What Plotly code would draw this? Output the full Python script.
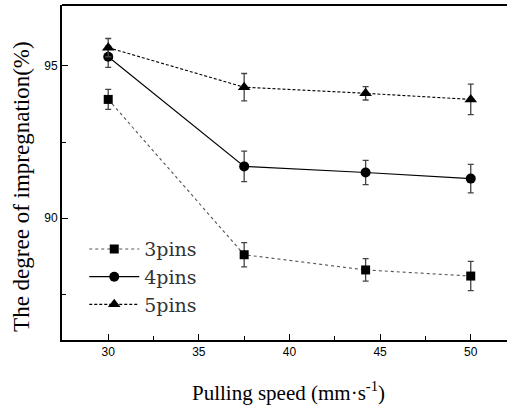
import plotly.graph_objects as go

speed = [30, 37.5, 44.2, 50]
pins3 = [93.9, 88.8, 88.3, 88.1]
pins3_err = [0.33, 0.4, 0.37, 0.48]
pins4 = [95.3, 91.7, 91.5, 91.3]
pins4_err = [0.35, 0.5, 0.4, 0.47]
pins5 = [95.6, 94.3, 94.1, 93.9]
pins5_err = [0.3, 0.45, 0.22, 0.5]
x_ticks = [30, 35, 40, 45, 50]
y_ticks = [90, 95]

series = [
    ("3pins", pins3, pins3_err, "square", "dot", "#555555", 9),
    ("4pins", pins4, pins4_err, "circle", "solid", "black", 10),
    ("5pins", pins5, pins5_err, "triangle-up", "3px,2px", "black", 11),
]

fig = go.Figure()
for name, vals, err, sym, dash, lc, ms in series:
    fig.add_trace(go.Scatter(
        x=speed, y=vals, name=name, mode="lines+markers",
        line=dict(color=lc, width=1.1, dash=dash),
        marker=dict(symbol=sym, size=ms, color="black"),
        error_y=dict(type="data", array=err, visible=True,
                     color="#444444", thickness=1.3, width=3),
    ))

axis_font = dict(family="Liberation Sans, Arial, sans-serif", size=12, color="black")
fig.update_xaxes(
    range=[27.45, 52.0], tickvals=x_ticks, ticks="inside", ticklen=6, tickwidth=1.2,
    tickcolor="black", showline=True, linecolor="black", linewidth=2, mirror=False,
    showgrid=False, zeroline=False, tickfont=axis_font,
    minor=dict(tickvals=[32.5, 37.5, 42.5, 47.5], ticks="inside", ticklen=4,
               tickcolor="black", tickwidth=1),
)
fig.update_yaxes(
    range=[86, 97], tickvals=y_ticks, ticks="inside", ticklen=6, tickwidth=1.2,
    tickcolor="black", showline=True, linecolor="black", linewidth=2, mirror=False,
    showgrid=False, zeroline=False, tickfont=axis_font,
    minor=dict(tickvals=[87.5, 92.5], ticks="inside", ticklen=4,
               tickcolor="black", tickwidth=1),
)

# top frame line
fig.add_shape(type="line", xref="paper", yref="paper", x0=0, x1=1, y0=1, y1=1,
              line=dict(color="black", width=2))

fig.add_annotation(text="Pulling speed (mm·s<sup>-1</sup>)", xref="paper", yref="paper",
                   x=0.508, y=-0.155, xanchor="center", yanchor="middle",
                   showarrow=False,
                   font=dict(family="Liberation Serif, Times New Roman, serif",
                             size=21, color="black"))
fig.add_annotation(text="The degree of impregnation(%)", xref="paper", yref="paper",
                   x=-0.0899, y=0.46, xanchor="center", yanchor="middle",
                   textangle=-90, showarrow=False,
                   font=dict(family="Liberation Serif, Times New Roman, serif",
                             size=23, color="black"))

fig.update_layout(
    width=507, height=407,
    margin=dict(l=62, r=0, t=5, b=67),
    paper_bgcolor="white", plot_bgcolor="white",
    showlegend=True,
    legend=dict(x=0.05, y=0.328, xanchor="left", yanchor="top",
                bgcolor="rgba(0,0,0,0)",
                font=dict(family="DejaVu Serif, serif", size=19, color="#333333"),
                itemwidth=50),
)

fig.write_html(
    "out.html",
    config={"displayModeBar": False},
    post_script=(
        "var s=document.createElement('style');"
        "s.textContent='html,body{margin:0;padding:0;overflow:hidden;scrollbar-width:none;}"
        "::-webkit-scrollbar{display:none;width:0;height:0;}';"
        "document.head.appendChild(s);"
        "document.body.style.margin='0';"
    ),
)
